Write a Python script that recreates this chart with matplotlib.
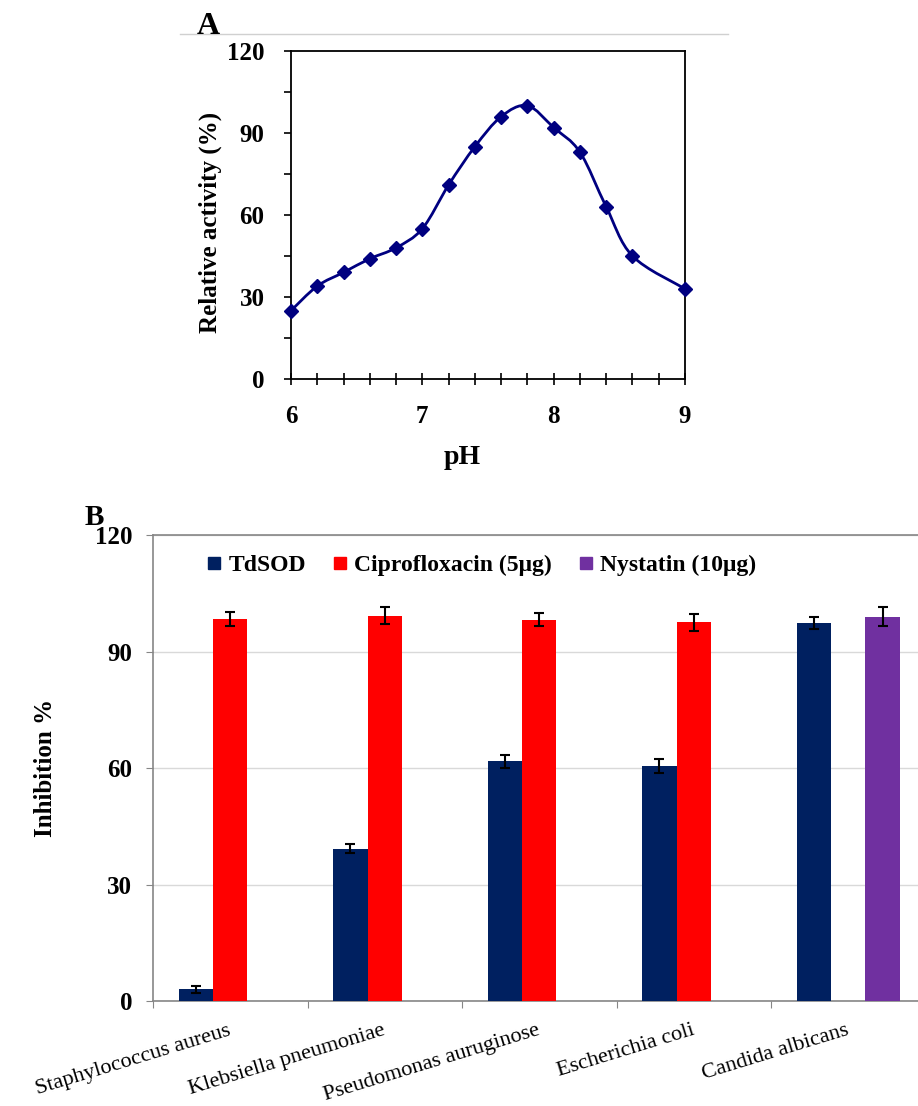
import matplotlib
matplotlib.use("Agg")
import matplotlib.pyplot as plt
from matplotlib.lines import Line2D
from matplotlib.patches import PathPatch
from matplotlib.path import Path
from matplotlib.ticker import MultipleLocator, FixedLocator
import numpy as np

# Panel A: pH profile
ph = [6.0, 6.2, 6.4, 6.6, 6.8, 7.0, 7.2, 7.4, 7.6, 7.8, 8.0, 8.2, 8.4, 8.6, 9.0]
activity = [25, 34, 39, 44, 48, 55, 71, 85, 96, 100, 92, 83, 63, 45, 33]

# Panel B: antimicrobial inhibition
organisms = ["Staphylococcus aureus", "Klebsiella pneumoniae", "Pseudomonas auruginose",
             "Escherichia coli", "Candida albicans"]
tdsod = [3.0, 39.2, 61.7, 60.4, 97.4]
tdsod_err = [0.9, 1.2, 1.7, 1.8, 1.5]
cipro = [98.4, 99.2, 98.2, 97.5, np.nan]
cipro_err = [1.8, 2.2, 1.7, 2.1, np.nan]
nystatin = [np.nan, np.nan, np.nan, np.nan, 99.0]
nystatin_err = [np.nan, np.nan, np.nan, np.nan, 2.4]
series_names = ["TdSOD", "Ciprofloxacin (5μg)", "Nystatin (10μg)"]

NAVY = "#002060"
RED = "#ff0000"
PURPLE = "#7030a0"
LINE_BLUE = "#000080"
GRAY = "#868686"

plt.rcParams["font.family"] = ["Liberation Serif", "DejaVu Serif"]
plt.rcParams["font.weight"] = "bold"
plt.rcParams["axes.labelweight"] = "bold"


def smooth_path(x, y):
    # Excel-style smoothed line: cubic Bezier through each point.
    pts = np.column_stack([x, y]).astype(float)
    n = len(pts)
    verts = [pts[0]]
    codes = [Path.MOVETO]
    for i in range(n - 1):
        p0 = pts[max(i - 1, 0)]
        p1 = pts[i]
        p2 = pts[i + 1]
        p3 = pts[min(i + 2, n - 1)]
        verts += [p1 + (p2 - p0) / 6, p2 - (p3 - p1) / 6, p2]
        codes += [Path.CURVE4] * 3
    return Path(verts, codes)


fig = plt.figure(figsize=(9.18, 11.06), dpi=100)
W, H = 918, 1106


def px_axes(left, top, right, bottom):
    return fig.add_axes([left / W, 1 - bottom / H, (right - left) / W, (bottom - top) / H])


# ---------------- Panel A ----------------
ax_a = px_axes(291, 51, 685, 379)
ax_a.add_patch(PathPatch(smooth_path(ph, activity), facecolor="none", edgecolor=LINE_BLUE, lw=2, zorder=3))
ax_a.plot(ph, activity, ls="none", marker="D", markersize=7, color=LINE_BLUE, zorder=4, clip_on=False)
ax_a.set_xlim(6, 9)
ax_a.set_ylim(0, 120)
ax_a.xaxis.set_major_locator(MultipleLocator(1))
ax_a.xaxis.set_minor_locator(MultipleLocator(0.2))
ax_a.yaxis.set_major_locator(MultipleLocator(30))
ax_a.yaxis.set_minor_locator(MultipleLocator(15))
ax_a.tick_params(axis="x", which="both", direction="inout", length=9, width=1.2, pad=14, labelsize=18)
ax_a.tick_params(axis="y", which="both", direction="out", length=5, width=1.2, pad=14, labelsize=18)
for s in ax_a.spines.values():
    s.set_linewidth(1.3)
    s.set_color("black")
ax_a.set_xlabel("pH", fontsize=20)
ax_a.xaxis.set_label_coords(0.435, -0.2)
ax_a.set_ylabel("Relative activity (%)", fontsize=18)
ax_a.yaxis.set_label_coords(-0.175, 0.478)
fig.text(197 / W, 1 - 34 / H, "A", fontsize=23, fontweight="bold")
fig.add_artist(Line2D([180 / W, 728 / W], [1 - 34 / H, 1 - 34 / H], color="#d0d0d0", lw=1))

# ---------------- Panel B ----------------
ax_b = px_axes(153, 535, 925.5, 1001)
x = np.arange(len(organisms))
bw = 0.223
ax_b.bar(x - bw, tdsod, bw, color=NAVY, zorder=3)
ax_b.bar(x, cipro, bw, color=RED, zorder=3)
ax_b.bar(x + bw, nystatin, bw, color=PURPLE, zorder=3)
for off, vals, errs in [(-bw, tdsod, tdsod_err), (0, cipro, cipro_err), (bw, nystatin, nystatin_err)]:
    ax_b.errorbar(x + off, vals, yerr=errs, fmt="none", ecolor="black",
                  elinewidth=1.5, capsize=3.5, capthick=1.5, zorder=4)

ax_b.set_xlim(-0.5, len(organisms) - 0.5)
ax_b.set_ylim(0, 120)
ax_b.yaxis.set_major_locator(MultipleLocator(30))
ax_b.grid(axis="y", color="#d9d9d9", lw=1, zorder=0)
ax_b.set_axisbelow(True)
ax_b.xaxis.set_major_locator(FixedLocator(np.arange(-0.5, len(organisms), 1.0)))
ax_b.xaxis.set_minor_locator(FixedLocator(x))
ax_b.set_xticklabels([])
ax_b.set_xticks(x, organisms, minor=True)
ax_b.tick_params(axis="x", which="major", direction="out", length=5, color=GRAY)
ax_b.tick_params(axis="x", which="minor", length=0, pad=21)
for lab in ax_b.get_xticklabels(minor=True):
    lab.set_rotation(17)
    lab.set_rotation_mode("anchor")
    lab.set_ha("right")
    lab.set_va("center")
    lab.set_fontweight("normal")
    lab.set_fontsize(16)
ax_b.tick_params(axis="y", direction="out", length=5, color=GRAY, pad=10, labelsize=18)
for name in ["left", "bottom", "top"]:
    ax_b.spines[name].set_color(GRAY)
    ax_b.spines[name].set_linewidth(1.2)
ax_b.spines["right"].set_visible(False)
ax_b.set_ylabel("Inhibition %", fontsize=18)
ax_b.yaxis.set_label_coords(-0.124, 0.5)

handles = [Line2D([], [], ls="none", marker="s", markersize=8, color=c) for c in (NAVY, RED, PURPLE)]
ax_b.legend(handles, series_names, loc="center left", bbox_to_anchor=(207 / W, 1 - 565 / H),
            bbox_transform=fig.transFigure, ncol=3, frameon=False, fontsize=17,
            handlelength=0.6, handletextpad=0.3, columnspacing=1.15, borderpad=0, borderaxespad=0)
fig.text(85 / W, 1 - 525 / H, "B", fontsize=21, fontweight="bold")

fig.savefig("out.png", dpi=100)
